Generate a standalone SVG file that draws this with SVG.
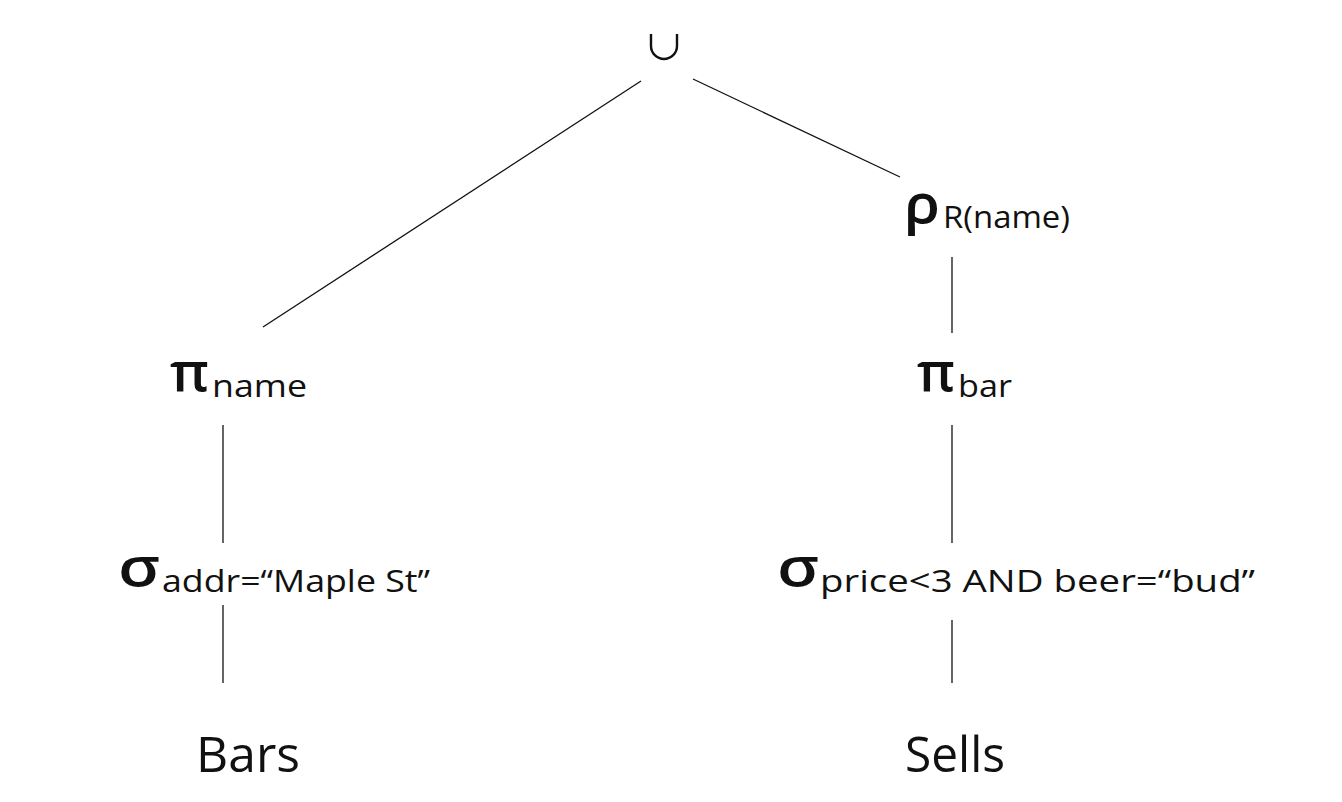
<svg xmlns="http://www.w3.org/2000/svg" width="1342" height="802" viewBox="0 0 1342 802">
<style>
.op{font-family:"Open Sans","DejaVu Sans",sans-serif;font-size:54px;font-weight:600;fill:#111}
.sub{font-family:"Open Sans","DejaVu Sans",sans-serif;font-size:31px;fill:#111}
.rel{font-family:"Open Sans","DejaVu Sans",sans-serif;font-size:50px;fill:#111}
.e{stroke:#111;stroke-width:1.3;fill:none}
</style>
<rect width="1342" height="802" fill="#fff"/>
<g id="connectors">
<line class="e" x1="641" y1="81" x2="263" y2="327"/>
<line class="e" x1="693" y1="79" x2="900" y2="177"/>
<line class="e" x1="952" y1="257" x2="952" y2="333"/>
<line class="e" x1="952" y1="425" x2="952" y2="543"/>
<line class="e" x1="952" y1="620" x2="952" y2="683"/>
<line class="e" x1="223" y1="425" x2="223" y2="543"/>
<line class="e" x1="223" y1="605" x2="223" y2="683"/>
</g>
<g id="union"><path d="M651,34 V46 A13,13 0 0 0 677,46 V34" fill="none" stroke="#111" stroke-width="2.4"/></g>
<g id="rho"><text class="op" x="904" y="223" textLength="36" lengthAdjust="spacingAndGlyphs">ρ</text><text class="sub" x="943" y="228" textLength="127" lengthAdjust="spacingAndGlyphs">R(name)</text></g>
<g id="pi_bar"><text class="op" x="917" y="391" textLength="38" lengthAdjust="spacingAndGlyphs">π</text><text class="sub" x="958" y="397" textLength="54" lengthAdjust="spacingAndGlyphs">bar</text></g>
<g id="pi_name"><text class="op" x="170" y="391" textLength="39" lengthAdjust="spacingAndGlyphs">π</text><text class="sub" x="212" y="397" textLength="95" lengthAdjust="spacingAndGlyphs">name</text></g>
<g id="sigma_addr"><text class="op" x="118" y="586" textLength="42" lengthAdjust="spacingAndGlyphs">σ</text><text class="sub" x="162" y="592" textLength="268" lengthAdjust="spacingAndGlyphs">addr=“Maple St”</text></g>
<g id="sigma_price"><text class="op" x="777" y="586" textLength="42" lengthAdjust="spacingAndGlyphs">σ</text><text class="sub" x="820" y="592" textLength="435" lengthAdjust="spacingAndGlyphs">price&lt;3 AND beer=“bud”</text></g>
<g id="bars"><text class="rel" x="196" y="772" textLength="104" lengthAdjust="spacingAndGlyphs">Bars</text></g>
<g id="sells"><text class="rel" x="905" y="772" textLength="100" lengthAdjust="spacingAndGlyphs">Sells</text></g>
</svg>
